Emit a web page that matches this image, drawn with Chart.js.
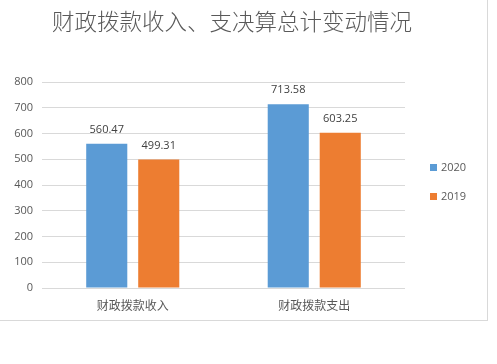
<!DOCTYPE html>
<html>
<head>
<meta charset="utf-8">
<script src="https://cdn.jsdelivr.net/npm/chart.js@4"></script>
<style>
    body { margin: 0; background: #fff; }
    #frame { width: 487px; height: 320px; border-right: 1px solid #d9d9d9; border-bottom: 1px solid #d9d9d9; }
</style>
</head>
<body>
<div id="frame"><canvas id="chart" width="487" height="320"></canvas></div>
<script>
// datos del grafico
var titulo = '财政拨款收入、支决算总计变动情况';
var categorias = ['财政拨款收入', '财政拨款支出'];
var valores2020 = [560.47, 713.58];
var valores2019 = [499.31, 603.25];
var series = ['2020', '2019'];
var ticksY = [0, 100, 200, 300, 400, 500, 600, 700, 800];

var gris = '#595959';

// titulo, leyenda y etiquetas de valor
var extras = {
    id: 'extras',
    afterDatasetsDraw: function (chart) {
        var ctx = chart.ctx;
        ctx.save();
        ctx.textAlign = 'center';
        ctx.textBaseline = 'middle';
        ctx.fillStyle = '#404040';
        ctx.font = '11px "Open Sans"';
        chart.data.datasets.forEach(function (ds, i) {
            var meta = chart.getDatasetMeta(i);
            meta.data.forEach(function (bar, j) {
                ctx.fillText(ds.data[j].toFixed(2), bar.x, bar.y - 14);
            });
        });
        ctx.restore();
    },
    afterDraw: function (chart) {
        var ctx = chart.ctx;
        ctx.save();
        // titulo
        ctx.fillStyle = gris;
        ctx.font = '300 22.5px "Noto Sans CJK SC"';
        ctx.textAlign = 'center';
        ctx.textBaseline = 'middle';
        ctx.fillText(titulo, 232, 21);
        // leyenda
        ctx.font = '11px "Open Sans"';
        ctx.textAlign = 'left';
        chart.data.datasets.forEach(function (ds, i) {
            var y = 168 + i * 29;
            ctx.fillStyle = ds.backgroundColor;
            ctx.fillRect(430, y - 4, 7, 7);
            ctx.fillStyle = gris;
            ctx.fillText(ds.label, 441, y);
        });
        ctx.restore();
    }
};

var ctx = document.getElementById('chart').getContext('2d');
new Chart(ctx, {
    type: 'bar',
    data: {
        labels: categorias,
        datasets: [{
            label: series[0],
            data: valores2020,
            backgroundColor: '#5b9bd5'
        }, {
            label: series[1],
            data: valores2019,
            backgroundColor: '#ed7d31'
        }]
    },
    options: {
        responsive: false,
        animation: false,
        categoryPercentage: 0.573,
        barPercentage: 0.79,
        layout: { padding: { top: 82, right: 82, left: 0, bottom: 0 } },
        plugins: {
            legend: { display: false },
            title: { display: false },
            tooltip: { enabled: false }
        },
        scales: {
            x: {
                grid: { display: false, drawTicks: false },
                border: { display: false },
                ticks: { color: gris, font: { family: '"Noto Sans CJK SC"', size: 12 }, padding: 10 },
                afterFit: function (s) { s.height = 32; }
            },
            y: {
                min: 0,
                max: 800,
                afterBuildTicks: function (s) {
                    s.ticks = ticksY.map(function (v) { return { value: v }; });
                },
                grid: { color: '#d9d9d9', drawTicks: false },
                border: { display: false },
                ticks: { color: gris, font: { family: '"Open Sans"', size: 11 }, padding: 9 },
                afterFit: function (s) { s.width = 42; }
            }
        }
    },
    plugins: [extras]
});
</script>
</body>
</html>
